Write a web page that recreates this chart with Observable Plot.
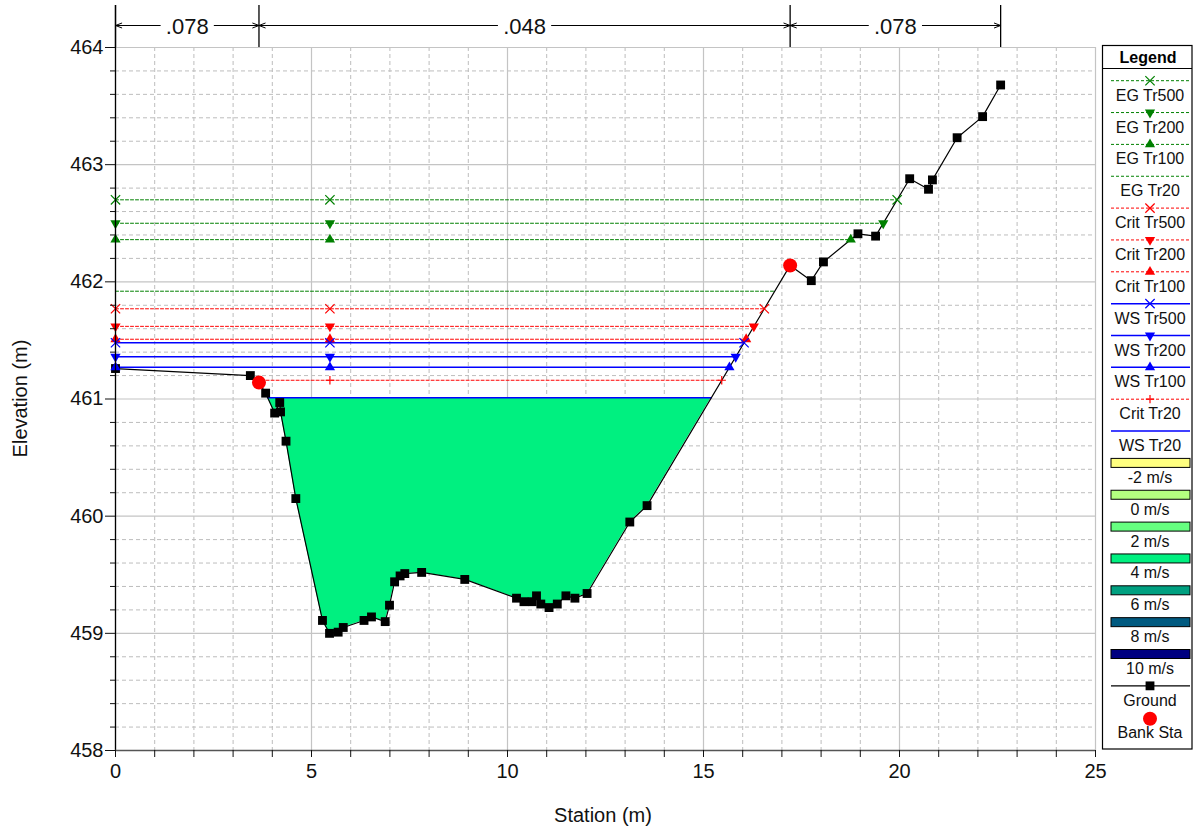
<!DOCTYPE html>
<html><head><meta charset="utf-8">
<script src="https://cdn.jsdelivr.net/npm/d3@7"></script>
<script src="https://cdn.jsdelivr.net/npm/@observablehq/plot@0.6"></script>
<style>
body{margin:0;background:#fff;font-family:Arial,"Liberation Sans",sans-serif;}
#wrap{position:relative;width:1197px;height:830px;overflow:hidden;}
#wrap svg{position:absolute;left:0;top:0;}
</style></head><body><div id="wrap"></div>
<script>
// ---- data ----
const groundX = [0, 3.44, 3.66, 3.83, 4.06, 4.19, 4.21, 4.35, 4.60, 5.28, 5.46, 5.68, 5.81, 6.34, 6.53, 6.88, 6.99, 7.12, 7.26, 7.38, 7.81, 8.91, 10.23, 10.42, 10.63, 10.74, 10.85, 11.06, 11.27, 11.49, 11.72, 12.03, 13.12, 13.56, 17.21, 17.75, 18.06, 18.94, 19.39, 20.26, 20.74, 20.84, 21.47, 22.12, 22.58];
const groundY = [461.26, 461.20, 461.14, 461.05, 460.88, 460.97, 460.89, 460.64, 460.15, 459.11, 459.00, 459.01, 459.05, 459.11, 459.14, 459.10, 459.24, 459.44, 459.49, 459.51, 459.52, 459.46, 459.30, 459.27, 459.27, 459.32, 459.25, 459.22, 459.25, 459.32, 459.30, 459.34, 459.95, 460.09, 462.14, 462.01, 462.17, 462.41, 462.39, 462.88, 462.79, 462.87, 463.23, 463.41, 463.68];
const bankX = [3.66, 17.21];
const bankY = [461.14, 462.14];
const nValues = [".078", ".048", ".078"];
const nBounds = [0, 3.66, 17.21, 22.58];
const profileNames = ["EG Tr500","EG Tr200","EG Tr100","EG Tr20","Crit Tr500","Crit Tr200","Crit Tr100","WS Tr500","WS Tr200","WS Tr100","Crit Tr20","WS Tr20"];
const profileLevels = [462.70, 462.50, 462.36, 461.92, 461.77, 461.62, 461.51, 461.48, 461.36, 461.27, 461.16, 461.01];
const profileKinds = ["EG","EG","EG","EG","Crit","Crit","Crit","WS","WS","WS","Crit","WS"];
const profileSymbols = ["times","down","up",null,"times","down","up","times","down","up","plus",null];
const markerStations = [0, 5.47];
const velocityLabels = ["-2 m/s","0 m/s","2 m/s","4 m/s","6 m/s","8 m/s","10 m/s"];
const velocityColors = ["#ffff80","#b4ff80","#66ff80","#00f080","#00a080","#005a80","#000080"];
const xTicks = [0, 5, 10, 15, 20, 25];
const yTicks = [458, 459, 460, 461, 462, 463, 464];

// ---- styles ----
const kindStyle = {
  EG: {stroke: "#008000", dash: "3,2", width: 1},
  Crit: {stroke: "#ff0000", dash: "3,2", width: 1},
  WS: {stroke: "#0000ff", dash: null, width: 1.5}
};
const sqrt3 = Math.sqrt(3);
const triDown = {draw(context, size) {
  const y = -Math.sqrt(size / (sqrt3 * 3));
  context.moveTo(0, -y * 2);
  context.lineTo(-sqrt3 * y, y);
  context.lineTo(sqrt3 * y, y);
  context.closePath();
}};
const symbolMap = {times: "times", up: "triangle", down: triDown, plus: "plus"};
const d3SymbolMap = {times: d3.symbolTimes, up: d3.symbolTriangle, down: triDown, plus: d3.symbolPlus};
const symR = {times: 4.3, up: 3.8, down: 3.8, plus: 2.8};

const W = 1197, H = 830, mL = 115, mR = 102, mT = 47, mB = 80;
const pxPerUnit = (W - mL - mR) / 25;
const pxPerY = (H - mT - mB) / 6;

// ---- derived geometry ----
const ground = groundX.map((x, i) => ({x, y: groundY[i]}));
const iMin = d3.minIndex(groundY);
function extentAt(level) {
  let x0 = groundX[0];
  for (let i = iMin; i > 0; i--) {
    if (groundY[i - 1] >= level) {
      const a = ground[i - 1], b = ground[i];
      x0 = a.x + (a.y - level) / (a.y - b.y) * (b.x - a.x);
      break;
    }
  }
  let x1 = groundX[groundX.length - 1];
  for (let j = iMin; j < groundX.length - 1; j++) {
    if (groundY[j + 1] >= level) {
      const a = ground[j], b = ground[j + 1];
      x1 = a.x + (level - a.y) / (b.y - a.y) * (b.x - a.x);
      break;
    }
  }
  return [x0, x1];
}
const profiles = profileNames.map((name, i) => {
  const level = profileLevels[i];
  const [x0, x1] = extentAt(level);
  return {name, level, x0, x1, kind: profileKinds[i], sym: profileSymbols[i]};
});
const lineData = profiles.flatMap(p => [{name: p.name, kind: p.kind, x: p.x0, y: p.level}, {name: p.name, kind: p.kind, x: p.x1, y: p.level}]);
const markerData = profiles.filter(p => p.sym).flatMap(p => {
  const xs = markerStations.filter(s => s >= p.x0 - 1e-6 && s <= p.x1).concat([p.x1]);
  return xs.map(x => ({x, y: p.level, kind: p.kind, sym: p.sym}));
});
// wetted area under lowest water surface (WS Tr20)
const wsLow = profiles[profiles.length - 1];
const fillPts = [{x: wsLow.x0, g: wsLow.level, w: wsLow.level}]
  .concat(ground.filter(d => d.x > wsLow.x0 && d.x < wsLow.x1).map(d => ({x: d.x, g: d.y, w: wsLow.level})))
  .concat([{x: wsLow.x1, g: wsLow.level, w: wsLow.level}]);

// top annotation (Manning's n)
const annY = 464 + 22 / pxPerY;
const annTop = 464 + 42 / pxPerY;
const gap = 27 / pxPerUnit;
const nSegs = nValues.map((v, i) => ({label: v, a: nBounds[i], b: nBounds[i + 1], c: (nBounds[i] + nBounds[i + 1]) / 2}));
const arrows = nSegs.flatMap(s => [{x1: s.c - gap, x2: s.a}, {x1: s.c + gap, x2: s.b}]);

const minorX = d3.range(0, 26).filter(v => v % 5 !== 0);
const minorY = d3.range(0, 31).map(i => 458 + i * 0.2).filter((v, i) => i % 5 !== 0);

const marks = [
  Plot.ruleX(minorX, {stroke: "#bdbdbd", strokeDasharray: "4,3", strokeWidth: 1}),
  Plot.ruleY(minorY, {stroke: "#bdbdbd", strokeDasharray: "4,3", strokeWidth: 1}),
  Plot.ruleX(xTicks, {stroke: "#c4c4c4", strokeWidth: 1.2}),
  Plot.ruleY(yTicks, {stroke: "#c4c4c4", strokeWidth: 1.2}),
  Plot.areaY(fillPts, {x: "x", y1: "g", y2: "w", fill: velocityColors[3], curve: "linear"}),
];
for (const kind of ["EG", "Crit", "WS"]) {
  const st = kindStyle[kind];
  marks.push(Plot.line(lineData.filter(d => d.kind === kind), {x: "x", y: "y", z: "name", stroke: st.stroke, strokeWidth: st.width, strokeDasharray: st.dash}));
}
marks.push(
  Plot.line(ground, {x: "x", y: "y", stroke: "black", strokeWidth: 1.2}),
  Plot.dot(ground, {x: "x", y: "y", symbol: "square", r: 5, fill: "black"}),
  Plot.dot(bankX.map((x, i) => ({x, y: bankY[i]})), {x: "x", y: "y", r: 7, fill: "#ff0000"})
);
for (const d of markerData) {
  const st = kindStyle[d.kind];
  const stroked = d.sym === "times" || d.sym === "plus";
  marks.push(Plot.dot([d], {x: "x", y: "y", symbol: symbolMap[d.sym], r: symR[d.sym],
    fill: stroked ? "none" : st.stroke, stroke: stroked ? st.stroke : "none", strokeWidth: 1.2}));
}
marks.push(
  Plot.ruleX(nBounds, {y1: 464, y2: annTop, stroke: "black", strokeWidth: 1.3}),
  Plot.ruleX([0], {y1: 458, y2: annTop, stroke: "black", strokeWidth: 1.3}),
  Plot.ruleY([458], {stroke: "#555", strokeWidth: 1.5}),
  Plot.arrow(arrows, {x1: "x1", x2: "x2", y1: () => annY, y2: () => annY, stroke: "black", strokeWidth: 1, headLength: 10, headAngle: 42}),
  Plot.text(nSegs, {x: "c", y: () => annY, dy: 1, text: "label", fontSize: 22, fill: "#111"}),
  Plot.axisY(yTicks, {tickSize: 10, tickPadding: 2, fontSize: 20, label: null, tickFormat: d => d}),
  Plot.axisY(minorY, {tickSize: 5, label: null, tickFormat: () => ""}),
  Plot.axisX(d3.range(0, 26), {tickSize: 7, tickPadding: 6, fontSize: 20, label: null, tickFormat: d => d % 5 === 0 ? d : ""})
);

const chart = Plot.plot({
  width: W, height: H,
  marginLeft: mL, marginRight: mR, marginTop: mT, marginBottom: mB,
  x: {domain: [0, 25]},
  y: {domain: [458, 464]},
  style: {fontFamily: "Arial, 'Liberation Sans', sans-serif", fontSize: "20px", color: "#111", background: "white"},
  marks
});
const wrap = document.getElementById("wrap");
wrap.appendChild(chart);

// ---- overlay: axis titles and legend ----
const ov = d3.select(wrap).append("svg").attr("width", W).attr("height", H)
  .style("font-family", "Arial, 'Liberation Sans', sans-serif").style("pointer-events", "none");
ov.append("text").attr("x", mL + (W - mL - mR) / 2 - 2).attr("y", 822).attr("text-anchor", "middle")
  .attr("font-size", 20).attr("fill", "#111").text("Station (m)");
ov.append("text").attr("transform", `translate(27,${mT + (H - mT - mB) / 2}) rotate(-90)`).attr("text-anchor", "middle")
  .attr("font-size", 20).attr("fill", "#111").text("Elevation (m)");

const lg = ov.append("g");
const LX0 = 1102.5, LX1 = 1192, LT = 45.5, LB = 749;
lg.append("rect").attr("x", LX0).attr("y", LT).attr("width", LX1 - LX0).attr("height", LB - LT)
  .attr("fill", "white").attr("stroke", "black").attr("stroke-width", 1.2);
lg.append("text").attr("x", 1148).attr("y", 62.5).attr("text-anchor", "middle").attr("font-size", 16)
  .attr("font-weight", "bold").text("Legend");
lg.append("line").attr("x1", LX0).attr("x2", LX1).attr("y1", 68.5).attr("y2", 68.5).attr("stroke", "black");

const items = profiles.map(p => ({name: p.name, type: "line", kind: p.kind, sym: p.sym}))
  .concat(velocityLabels.map((v, i) => ({name: v, type: "swatch", color: velocityColors[i]})))
  .concat([{name: "Ground", type: "ground"}, {name: "Bank Sta", type: "bank"}]);
const lx0 = 1111, lx1 = 1190, lcx = 1150;
items.forEach((it, i) => {
  const y = 80.7 + 31.85 * i;
  const g = lg.append("g");
  if (it.type === "line" || it.type === "ground") {
    const st = it.type === "ground" ? {stroke: "black", dash: null, width: 1.2} : kindStyle[it.kind];
    g.append("line").attr("x1", lx0).attr("x2", lx1).attr("y1", y).attr("y2", y)
      .attr("stroke", st.stroke).attr("stroke-width", st.width).attr("stroke-dasharray", st.dash);
    if (it.type === "ground") {
      g.append("path").attr("d", d3.symbol(d3.symbolSquare, 78)()).attr("transform", `translate(${lcx},${y})`).attr("fill", "black");
    } else if (it.sym) {
      const stroked = it.sym === "times" || it.sym === "plus";
      const r = symR[it.sym];
      g.append("path").attr("d", d3.symbol(d3SymbolMap[it.sym], r * r * Math.PI)())
        .attr("transform", `translate(${lcx},${y})`)
        .attr("fill", stroked ? "none" : st.stroke).attr("stroke", stroked ? st.stroke : "none").attr("stroke-width", 1.2);
    }
  } else if (it.type === "swatch") {
    g.append("rect").attr("x", lx0).attr("y", y - 4.5).attr("width", lx1 - lx0).attr("height", 9)
      .attr("fill", it.color).attr("stroke", "black").attr("stroke-width", 1);
  } else if (it.type === "bank") {
    g.append("circle").attr("cx", lcx).attr("cy", y + 1).attr("r", 7).attr("fill", "#ff0000");
  }
  g.append("text").attr("x", lcx).attr("y", y + 20).attr("text-anchor", "middle").attr("font-size", 16)
    .attr("fill", "#111").text(it.name);
});
</script></body></html>
